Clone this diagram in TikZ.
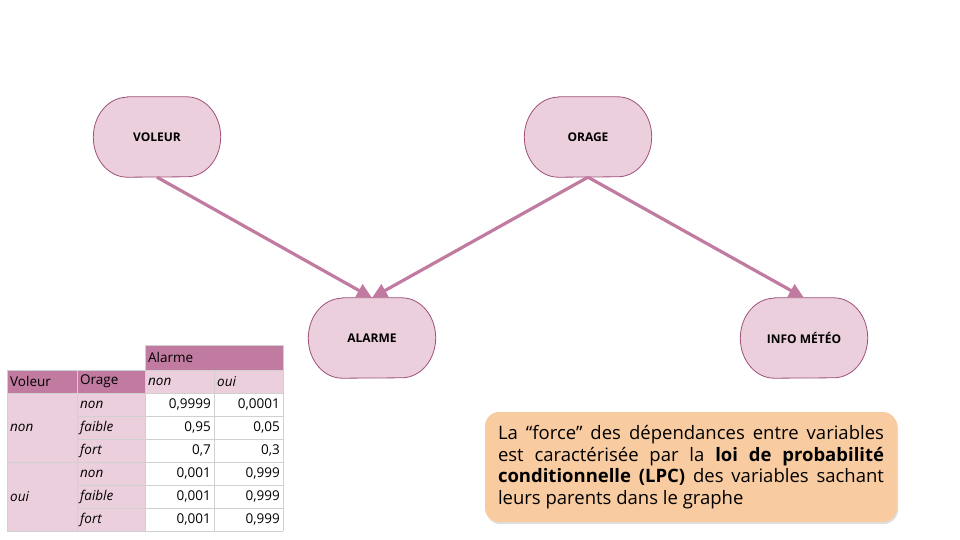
\documentclass[tikz,border=0pt]{standalone}
\usepackage{fontspec}
\setmainfont{Open Sans}
\usetikzlibrary{arrows.meta,shadows,backgrounds}
\definecolor{nodefill}{HTML}{EBCFDC}
\definecolor{nodeline}{HTML}{A0527A}
\definecolor{arrowcol}{HTML}{C27BA0}
\definecolor{hdr}{HTML}{C27BA0}
\definecolor{grid}{HTML}{D0D0D0}
\definecolor{peach}{HTML}{F8CBA0}
\newcommand\blobpath[1]{([xshift=34pt]#1.north west) -- ([xshift=-34pt]#1.north east)
  arc[start angle=90,end angle=0,x radius=34pt,y radius=40pt]
  arc[start angle=0,end angle=-90,x radius=34pt,y radius=40pt]
  -- ([xshift=34pt]#1.south west)
  arc[start angle=-90,end angle=-180,x radius=34pt,y radius=40pt]
  arc[start angle=180,end angle=90,x radius=34pt,y radius=40pt] -- cycle}
\newcommand\blobdraw[1]{%
  \begin{scope}[on background layer]
  \fill[black,opacity=0.18,xshift=1pt,yshift=-2pt] \blobpath{#1};
  \draw[nodeline,line width=0.8pt,fill=nodefill] \blobpath{#1};
  \end{scope}}
\begin{document}
\begin{tikzpicture}[x=1pt,y=-1pt,
  varnode/.style={inner sep=0pt,minimum width=127pt,minimum height=80pt,
    font=\fontsize{12}{14}\selectfont\bfseries},
  link/.style={draw=arrowcol,line width=3.2pt,-{Triangle[length=15pt,width=14pt]}},
  cell/.style={draw=grid,line width=0.8pt},
  ctext/.style={font=\fontsize{13.5}{15}\selectfont,inner sep=0pt},
  itext/.style={font=\fontsize{13.5}{15}\selectfont\itshape,inner sep=0pt},
  ]
\useasboundingbox (0,0) rectangle (960,540);
% nodes
\node[varnode] (v) at (157,137) {VOLEUR};
\node[varnode] (o) at (588,137) {ORAGE};
\node[varnode] (a) at (372,338) {ALARME};
\node[varnode] (m) at (804,338) {INFO MÉTÉO};
\blobdraw{v}\blobdraw{o}\blobdraw{a}\blobdraw{m}
% arrows
\draw[link] (v.south) -- (a.north);
\draw[link] (o.south) -- (a.north);
\draw[link] (o.south) -- (m.north);
% table fills
\fill[hdr] (145,345) rectangle (283,370);
\fill[hdr] (7,370) rectangle (145,393);
\fill[nodefill] (145,370) rectangle (283,393);
\fill[nodefill] (7,393) rectangle (145,531);
% grid
\draw[cell] (145,345) rectangle (283,370);
\foreach \y in {370,393,416,439,462,485,508,531} {\draw[cell] (145,\y) -- (283,\y);}
\foreach \y in {370,393,416,439,462,485,508,531} {\draw[cell] (77,\y) -- (145,\y);}
\foreach \y in {370,393,462,531} {\draw[cell] (7,\y) -- (77,\y);}
\foreach \x in {7,77,145,214,283} {\draw[cell] (\x,370) -- (\x,531);}
% table text
\node[ctext,anchor=west] (th) at (148,357.5) {Alarme};
\node[ctext,anchor=west] (tv) at (10,381.5) {Voleur};
\node[ctext,anchor=west] (to) at (80,381.5) {Orage};
\node[itext,anchor=west] (tn) at (148,381.5) {non};
\node[itext,anchor=west] (tu) at (217,381.5) {oui};
\node[itext,anchor=west] (vn) at (10,427.5) {non};
\node[itext,anchor=west] (vo) at (10,496.5) {oui};
\foreach \r/\y in {1/404.5,2/473.5} {
  \node[itext,anchor=west] (on\r) at (80,\y) {non};
}
\foreach \r/\y in {1/427.5,2/496.5} {
  \node[itext,anchor=west] (of\r) at (80,\y) {faible};
}
\foreach \r/\y in {1/450.5,2/519.5} {
  \node[itext,anchor=west] (ot\r) at (80,\y) {fort};
}
\foreach \i/\y/\p/\q in {1/404.5/{0,9999}/{0,0001},2/427.5/{0,95}/{0,05},3/450.5/{0,7}/{0,3},4/473.5/{0,001}/{0,999},5/496.5/{0,001}/{0,999},6/519.5/{0,001}/{0,999}} {
  \node[ctext,anchor=east] (p\i) at (211,\y) {\p};
  \node[ctext,anchor=east] (q\i) at (280,\y) {\q};
}
% text box
\node[fill=peach,rounded corners=14pt,minimum width=412pt,minimum height=110pt,
  text width=386pt,align=justify,inner sep=0pt,
  font=\fontsize{18.5}{21.5}\selectfont,
  drop shadow={opacity=0.25,shadow xshift=1pt,shadow yshift=-2pt}] (box) at (691,467)
  {La “force” des dépendances entre variables\linebreak est caractérisée par la \textbf{loi de probabilité}\linebreak \textbf{conditionnelle (LPC)} des variables sachant\linebreak leurs parents dans le graphe};
\end{tikzpicture}
\end{document}
